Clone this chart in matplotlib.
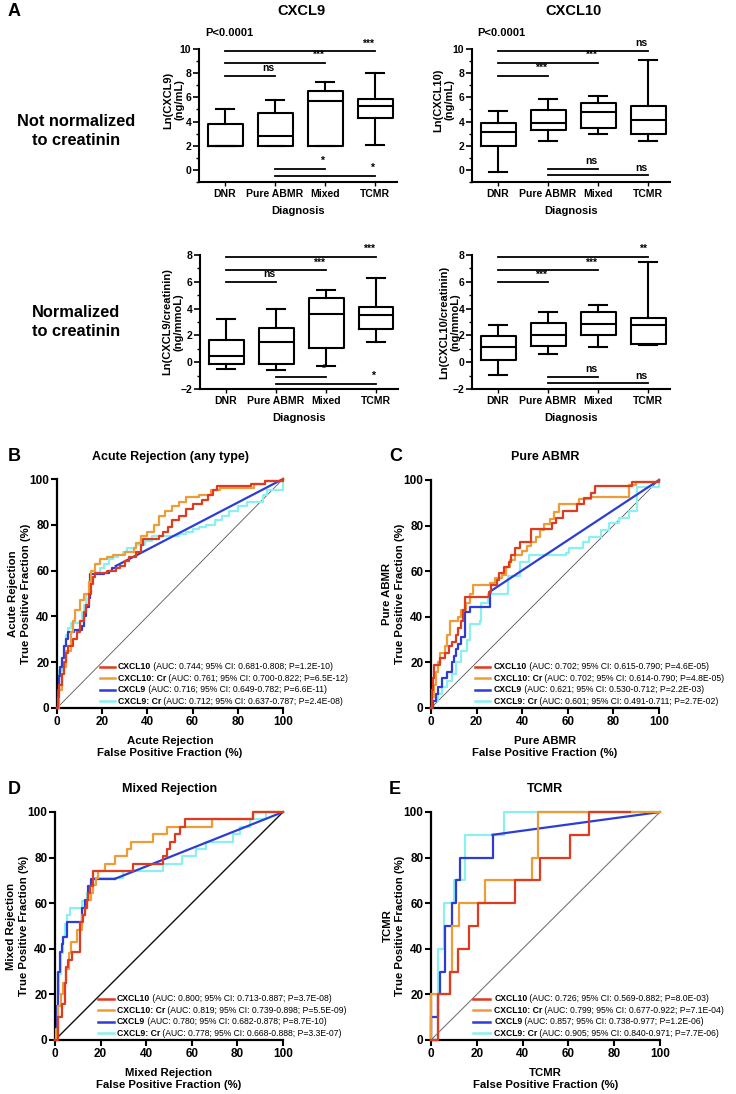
import matplotlib
matplotlib.use('Agg')
import matplotlib.pyplot as plt

plt.rcParams['font.family'] = ['Liberation Sans', 'DejaVu Sans']

# ---------------- data ----------------
groups = ['DNR', 'Pure ABMR', 'Mixed', 'TCMR']

# Panel A box statistics: whisker low, Q1, median, Q3, whisker high
cxcl9_low = [2.0, 2.0, 2.0, 2.1]
cxcl9_q1 = [2.0, 2.0, 2.0, 4.3]
cxcl9_med = [2.0, 2.8, 5.7, 5.3]
cxcl9_q3 = [3.8, 4.7, 6.5, 5.9]
cxcl9_high = [5.0, 5.75, 7.25, 8.0]

cxcl10_low = [-0.2, 2.4, 3.0, 2.4]
cxcl10_q1 = [2.0, 3.3, 3.5, 3.0]
cxcl10_med = [3.1, 3.85, 4.8, 4.1]
cxcl10_q3 = [3.9, 4.95, 5.55, 5.3]
cxcl10_high = [4.9, 5.9, 6.15, 9.1]

cxcl9cr_low = [-0.5, -0.55, -0.27, 1.5]
cxcl9cr_q1 = [-0.15, -0.1, 1.07, 2.5]
cxcl9cr_med = [0.47, 1.52, 3.63, 3.5]
cxcl9cr_q3 = [1.65, 2.55, 4.8, 4.1]
cxcl9cr_high = [3.2, 4.0, 5.37, 6.3]

cxcl10cr_low = [-0.95, 0.6, 1.1, 1.25]
cxcl10cr_q1 = [0.15, 1.2, 2.0, 1.35]
cxcl10cr_med = [1.1, 2.05, 2.85, 2.8]
cxcl10cr_q3 = [1.95, 2.9, 3.75, 3.3]
cxcl10cr_high = [2.8, 3.75, 4.25, 7.45]

# significance comparisons: (from group, to group, bar level, label)
sig_cxcl9 = [(0, 1, 7.77, 'ns'), (0, 2, 8.87, '***'), (0, 3, 9.83, '***'),
             (1, 2, 0.08, '*'), (1, 3, -0.47, '*')]
sig_cxcl10 = [(0, 1, 7.77, '***'), (0, 2, 8.87, '***'), (0, 3, 9.83, 'ns'),
              (1, 2, 0.08, 'ns'), (1, 3, -0.45, 'ns')]
sig_cxcl9cr = [(0, 1, 5.99, 'ns'), (0, 2, 6.87, '***'), (0, 3, 7.86, '***'),
               (1, 2, -1.1, '*'), (1, 3, -1.59, '*')]
sig_cxcl10cr = [(0, 1, 5.96, '***'), (0, 2, 6.87, '***'), (0, 3, 7.85, '**'),
                (1, 2, -1.1, 'ns'), (1, 3, -1.57, 'ns')]

# ROC curves (FPR %, TPR %); step points: at FPR x the TPR rises to y
series_names = ['CXCL10', 'CXCL10: Cr', 'CXCL9', 'CXCL9: Cr']
series_colors = ['#DE3B20', '#EE9C38', '#2C3DD6', '#8AF0F0']

B_cxcl10_fpr = [0, 0.5, 1, 2, 3, 4, 5, 7, 9, 10, 12, 13, 14, 15, 16, 17, 22, 26, 28, 30, 32, 35, 37, 38, 45, 47, 49, 51, 54, 57, 60, 64, 67, 69, 71, 86, 92, 100]
B_cxcl10_tpr = [0, 5, 10, 15, 20, 24, 27, 30, 33, 38, 42, 45, 50, 54, 57, 59, 60, 61, 62, 64, 66, 68, 71, 74, 75, 77, 79, 82, 84, 87, 89, 91, 93, 95, 97, 98, 99, 100]
B_cxcl10cr_fpr = [0, 1, 2, 3, 4, 6, 7, 8, 10, 12, 14, 15, 17, 19, 22, 25, 30, 34, 35, 37, 40, 43, 45, 48, 51, 54, 57, 63, 68, 72, 87, 92, 100]
B_cxcl10cr_tpr = [0, 8, 15, 18, 25, 33, 38, 43, 47, 50, 55, 60, 63, 65, 66, 67, 68, 70, 72, 75, 77, 80, 84, 86, 88, 90, 92, 93, 95, 96, 98, 99, 100]
B_cxcl9_fpr = [0, 0.5, 1, 1.5, 2.2, 3, 4, 5, 7.5, 11, 12, 13, 14, 14.7, 21, 23, 24.5, 26, 100]
B_cxcl9_tpr = [0, 8, 14, 18, 22, 27, 30, 33, 34, 36, 40, 44, 48, 58.5, 59, 60, 61, 62, 100]
B_cxcl9cr_fpr = [0, 0.5, 1, 2, 3, 4, 5, 6, 10, 11, 12, 13, 14, 15, 17, 19, 21, 23, 25, 27, 29, 31, 35, 39, 42, 54, 57, 60, 63, 66, 70, 73, 76, 80, 84, 91, 93, 100]
B_cxcl9cr_tpr = [0, 10, 16, 22, 27, 32, 35, 37, 38, 42, 45, 50, 55, 57, 59, 61, 63, 65, 66, 67, 68, 70, 71, 73, 75, 76, 77, 78, 79, 80, 82, 84, 86, 88, 90, 93, 95, 100]

C_cxcl10_fpr = [0, 0.5, 1, 1.5, 4, 6, 8, 9, 11, 12, 13, 14, 15, 25.5, 26.5, 29, 30, 32, 34, 35, 37, 39, 44, 53, 55, 58, 64, 67, 70, 72, 88, 100]
C_cxcl10_tpr = [0, 8, 13, 19, 22, 24, 27, 29, 32, 35, 38, 43, 48.6, 51, 54, 56, 59, 62, 64, 67, 70, 73, 78.5, 81, 83.5, 86.5, 89.5, 92, 94.5, 97.3, 99, 100]
C_cxcl10cr_fpr = [0, 0.5, 1.5, 2, 3, 4, 6, 7, 8.3, 12, 13, 15.5, 17, 18.5, 26, 28, 31, 33, 34.5, 37, 40, 42, 44, 46, 48, 49.5, 52, 54, 56, 65, 70, 87, 90, 100]
C_cxcl10cr_tpr = [0, 5, 10, 16, 20, 24, 27, 32, 38, 40, 43, 46, 50, 54, 55, 57, 58.5, 62, 65, 67, 69, 71, 73, 75, 78, 80.5, 83, 86, 89.5, 91.8, 92.5, 98, 99, 100]
C_cxcl9_fpr = [0, 1, 2, 3, 4.7, 7, 9, 10, 11, 12, 13, 14.8, 17, 25.8, 100]
C_cxcl9_tpr = [0, 3, 6, 9, 13, 16, 20, 23, 26, 28, 31, 42, 44.4, 51, 100]
C_cxcl9cr_fpr = [0, 1, 3, 5, 7, 9, 11, 13, 15.6, 17, 21.4, 22, 25, 33.8, 38.9, 43.2, 59.2, 60.7, 66.5, 69.4, 74.5, 78, 82.5, 87, 90.5, 100]
C_cxcl9cr_tpr = [0, 3, 6, 9, 12, 15, 20, 25, 30, 37, 38, 46, 50, 58, 64, 67, 68, 70, 73, 75, 78, 81, 83.5, 86.5, 97, 100]

D_cxcl10_fpr = [0, 1.5, 3, 4.4, 5, 5.8, 7.3, 11, 12.4, 13, 13.9, 14.6, 15.3, 16.8, 34.3, 47.4, 49, 50.4, 52.5, 54.7, 57, 87, 100]
D_cxcl10_tpr = [0, 10, 16, 25, 32, 35, 38.5, 51.6, 55, 58, 61.3, 64.5, 67.7, 74.2, 77.4, 80.6, 83.8, 87, 90.3, 93.5, 96.8, 100, 100]
D_cxcl10cr_fpr = [0, 0.5, 1.5, 2.5, 3.6, 5, 6, 7, 9.5, 11.7, 13, 13.9, 16, 16.5, 18, 19, 22, 26.3, 31.4, 33.5, 43, 49, 69, 87, 100]
D_cxcl10cr_tpr = [0, 5, 15, 20, 25, 31, 38, 43, 48.4, 55, 58, 61.3, 64.5, 68, 71, 74.2, 77.4, 80.6, 83.9, 87, 90.3, 93.5, 96.8, 100, 100]
D_cxcl9_fpr = [0, 0.7, 1.5, 2.2, 3, 3.6, 5.1, 11.7, 13, 14.6, 16, 26.3, 100]
D_cxcl9_tpr = [0, 15, 30, 38.8, 42, 45, 51.6, 58, 61.3, 67.7, 70.7, 70.7, 100]
D_cxcl9cr_fpr = [0, 0.7, 1.2, 1.9, 2.5, 3.6, 4.3, 5.1, 6.6, 11.7, 13.9, 15.3, 16.8, 30, 47.4, 55.5, 62, 66.4, 78, 81, 85.4, 92.7, 100]
D_cxcl9cr_tpr = [0, 10, 20, 29, 38, 45, 51, 54.8, 58, 61, 64.5, 67.7, 71, 74.2, 77.4, 80.6, 83.9, 87, 90.3, 93.5, 96.8, 100, 100]

E_cxcl10_fpr = [0, 3.2, 8.4, 11.7, 16.5, 20.5, 36.5, 47.6, 60.9, 69, 86.7]
E_cxcl10_tpr = [0, 20, 30, 40, 50, 60, 70, 80, 90, 100, 100]
E_cxcl10cr_fpr = [0, 0, 8.4, 9.2, 12.1, 23.6, 43.9, 46.8, 100]
E_cxcl10cr_tpr = [0, 20, 30, 50, 60, 70, 80, 100, 100]
E_cxcl9_fpr = [0, 0, 3.2, 4.0, 5.9, 9.2, 11.1, 12.8, 26.9, 100]
E_cxcl9_tpr = [0, 10, 20, 30, 50, 60, 70, 80, 90, 100]
E_cxcl9cr_fpr = [0, 3.2, 5.5, 9.9, 14.8, 32, 100]
E_cxcl9cr_tpr = [0, 40, 60, 70, 90, 100, 100]

B_auc = ['0.744', '0.761', '0.716', '0.712']
B_ci = ['0.681-0.808', '0.700-0.822', '0.649-0.782', '0.637-0.787']
B_p = ['1.2E-10', '6.5E-12', '6.6E-11', '2.4E-08']
C_auc = ['0.702', '0.702', '0.621', '0.601']
C_ci = ['0.615-0.790', '0.614-0.790', '0.530-0.712', '0.491-0.711']
C_p = ['4.6E-05', '4.8E-05', '2.2E-03', '2.7E-02']
D_auc = ['0.800', '0.819', '0.780', '0.778']
D_ci = ['0.713-0.887', '0.739-0.898', '0.682-0.878', '0.668-0.888']
D_p = ['3.7E-08', '5.5E-09', '8.7E-10', '3.3E-07']
E_auc = ['0.726', '0.799', '0.857', '0.905']
E_ci = ['0.569-0.882', '0.677-0.922', '0.738-0.977', '0.840-0.971']
E_p = ['8.0E-03', '7.1E-04', '1.2E-06', '7.7E-06']

# ---------------- figure ----------------
W, H = 736, 1094
fig = plt.figure(figsize=(W / 100, H / 100), dpi=100)


def ax_px(l, t, r, b):
    return fig.add_axes([l / W, 1 - b / H, (r - l) / W, (b - t) / H])


def ftext(x, y, s, **kw):
    kw.setdefault('fontweight', 'bold')
    return fig.text(x / W, 1 - y / H, s, **kw)


def box_panel(ax, low, q1, med, q3, high, ylim, sigs):
    stats = [dict(whislo=a, q1=b, med=c, q3=d, whishi=e, fliers=[])
             for a, b, c, d, e in zip(low, q1, med, q3, high)]
    lp = dict(color='black', linewidth=1.5)
    ax.bxp(stats, positions=range(len(groups)), widths=0.7, capwidths=0.36,
           showfliers=False, boxprops=lp, medianprops=lp, whiskerprops=lp,
           capprops=lp)
    ax.set_xlim(-0.52, 3.44)
    ax.set_ylim(*ylim)
    for s in ['top', 'right']:
        ax.spines[s].set_visible(False)
    for s in ['left', 'bottom']:
        ax.spines[s].set_linewidth(1.5)
    ax.set_xticks(range(len(groups)))
    ax.set_xticklabels(groups, fontweight='bold', fontsize=7.5)
    ax.set_yticks(range(ylim[0] + (ylim[0] % 2), ylim[1] + 1, 2))
    ax.set_yticks(range(ylim[0], ylim[1] + 1), minor=True)
    for lbl in ax.get_yticklabels():
        lbl.set_fontweight('bold')
        lbl.set_fontsize(7.5)
    ax.tick_params(axis='y', which='major', length=4, width=1.2, pad=1.5)
    ax.tick_params(axis='y', which='minor', length=2.5, width=1.0)
    ax.tick_params(axis='x', length=3, width=1.0, pad=2)
    for i, j, y, lab in sigs:
        ax.plot([i, j], [y, y], color='black', lw=1.3, clip_on=False)
        ax.text(j - 0.02, y + 0.02 * (ylim[1] - ylim[0]), lab, ha='right', va='bottom',
                fontsize=7.5, fontweight='bold')


a1 = ax_px(199, 49, 397, 182)
box_panel(a1, cxcl9_low, cxcl9_q1, cxcl9_med, cxcl9_q3, cxcl9_high, (-1, 10), sig_cxcl9)
a2 = ax_px(472, 49, 670, 182)
box_panel(a2, cxcl10_low, cxcl10_q1, cxcl10_med, cxcl10_q3, cxcl10_high, (-1, 10), sig_cxcl10)
a3 = ax_px(200, 255, 398, 389)
box_panel(a3, cxcl9cr_low, cxcl9cr_q1, cxcl9cr_med, cxcl9cr_q3, cxcl9cr_high, (-2, 8), sig_cxcl9cr)
a4 = ax_px(472, 255, 670, 389)
box_panel(a4, cxcl10cr_low, cxcl10cr_q1, cxcl10cr_med, cxcl10cr_q3, cxcl10cr_high, (-2, 8), sig_cxcl10cr)

for ax in (a1, a2, a3, a4):
    ax.set_xlabel('Diagnosis', fontweight='bold', fontsize=8, labelpad=5)

ftext(8, 12, 'A', fontsize=13, ha='left', va='center')
ftext(301, 11, 'CXCL9', fontsize=10.5, ha='center', va='center')
ftext(574, 11, 'CXCL10', fontsize=10.5, ha='center', va='center')
ftext(205, 33, 'P<0.0001', fontsize=8, ha='left', va='center')
ftext(477, 33, 'P<0.0001', fontsize=8, ha='left', va='center')
ftext(76, 131, 'Not normalized\nto creatinin', fontsize=11.8, ha='center', va='center',
      multialignment='center', linespacing=1.35)
ftext(76, 322, 'Normalized\nto creatinin', fontsize=11.8, ha='center', va='center',
      multialignment='center', linespacing=1.35)
ftext(174, 100, 'Ln(CXCL9)\n(ng/mL)', fontsize=8, rotation=90, ha='center', va='center',
      multialignment='center', linespacing=1.1)
ftext(444, 100, 'Ln(CXCL10)\n(ng/mL)', fontsize=8, rotation=90, ha='center', va='center',
      multialignment='center', linespacing=1.1)
ftext(173, 322, 'Ln(CXCL9/creatinin)\n(ng/mmoL)', fontsize=8, rotation=90, ha='center',
      va='center', multialignment='center', linespacing=1.1)
ftext(450, 322, 'Ln(CXCL10/creatinin)\n(ng/mmoL)', fontsize=8, rotation=90, ha='center',
      va='center', multialignment='center', linespacing=1.1)


# ---------------- ROC panels ----------------
def roc_panel(ax, curves, aucs, cis, ps, diag_color, diag_lw, name, leg_x):
    ax.plot([0, 100], [0, 100], color=diag_color, lw=diag_lw, zorder=1)
    zorders = [5, 4, 3, 2]
    for k, (fpr, tpr, stepped) in enumerate(curves):
        if stepped:
            ax.plot(fpr, tpr, drawstyle='steps-post', color=series_colors[k], lw=1.6,
                    zorder=zorders[k], clip_on=False)
        else:
            ax.plot(fpr[:-1], tpr[:-1], drawstyle='steps-post', color=series_colors[k],
                    lw=1.6, zorder=zorders[k], clip_on=False)
            ax.plot(fpr[-2:], tpr[-2:], color=series_colors[k], lw=1.6,
                    zorder=zorders[k], clip_on=False)
    ax.set_xlim(0, 100)
    ax.set_ylim(0, 100)
    ax.set_xticks(range(0, 101, 20))
    ax.set_yticks(range(0, 101, 20))
    for s in ['top', 'right']:
        ax.spines[s].set_visible(False)
    for s in ['left', 'bottom']:
        ax.spines[s].set_linewidth(1.6)
    ax.tick_params(direction='out', length=4, width=1.5, labelsize=8.5, pad=1.5)
    for lbl in ax.get_xticklabels() + ax.get_yticklabels():
        lbl.set_fontweight('bold')
    ax.set_xlabel(name + '\nFalse Positive Fraction (%)', fontweight='bold', fontsize=8.2,
                  labelpad=6, linespacing=1.3, multialignment='center')
    ax.set_ylabel(name + '\nTrue Positive Fraction (%)', fontweight='bold', fontsize=8.2,
                  labelpad=-1, linespacing=1.3, multialignment='center')
    rows = [0.18, 0.13, 0.079, 0.029]
    for k in range(4):
        y = rows[k]
        ax.plot([leg_x[0], leg_x[1]], [y, y], transform=ax.transAxes,
                color=series_colors[k], lw=1.8, clip_on=False)
        t = ax.text(leg_x[2], y, series_names[k], transform=ax.transAxes, fontsize=6.2,
                    fontweight='bold', ha='left', va='center')
        ax.annotate(' (AUC: %s; 95%% CI: %s; P=%s)' % (aucs[k], cis[k], ps[k]),
                    xy=(1, 0), xycoords=t, ha='left', va='bottom', fontsize=6.2)


bax = ax_px(57, 479, 283, 708)
roc_panel(bax, [(B_cxcl10_fpr, B_cxcl10_tpr, True), (B_cxcl10cr_fpr, B_cxcl10cr_tpr, True),
                (B_cxcl9_fpr, B_cxcl9_tpr, False), (B_cxcl9cr_fpr, B_cxcl9cr_tpr, True)],
          B_auc, B_ci, B_p, '#555555', 0.6, 'Acute Rejection', (0.19, 0.257, 0.27))
cax = ax_px(431, 480, 659, 708)
roc_panel(cax, [(C_cxcl10_fpr, C_cxcl10_tpr, True), (C_cxcl10cr_fpr, C_cxcl10cr_tpr, True),
                (C_cxcl9_fpr, C_cxcl9_tpr, False), (C_cxcl9cr_fpr, C_cxcl9cr_tpr, True)],
          C_auc, C_ci, C_p, '#555555', 0.6, 'Pure ABMR', (0.193, 0.259, 0.276))
dax = ax_px(55, 812, 283, 1040)
roc_panel(dax, [(D_cxcl10_fpr, D_cxcl10_tpr, True), (D_cxcl10cr_fpr, D_cxcl10cr_tpr, True),
                (D_cxcl9_fpr, D_cxcl9_tpr, False), (D_cxcl9cr_fpr, D_cxcl9cr_tpr, True)],
          D_auc, D_ci, D_p, '#111111', 1.0, 'Mixed Rejection', (0.19, 0.257, 0.27))
eax = ax_px(431, 812, 660, 1040)
roc_panel(eax, [(E_cxcl10_fpr, E_cxcl10_tpr, True), (E_cxcl10cr_fpr, E_cxcl10cr_tpr, True),
                (E_cxcl9_fpr, E_cxcl9_tpr, False), (E_cxcl9cr_fpr, E_cxcl9cr_tpr, True)],
          E_auc, E_ci, E_p, '#777777', 0.8, 'TCMR', (0.184, 0.259, 0.276))

ftext(8, 457, 'B', fontsize=13, ha='left', va='center')
ftext(389, 457, 'C', fontsize=13, ha='left', va='center')
ftext(8, 790, 'D', fontsize=13, ha='left', va='center')
ftext(389, 790, 'E', fontsize=13, ha='left', va='center')
ftext(170, 457, 'Acute Rejection (any type)', fontsize=9, ha='center', va='center')
ftext(545, 457, 'Pure ABMR', fontsize=9, ha='center', va='center')
ftext(170, 789, 'Mixed Rejection', fontsize=9, ha='center', va='center')
ftext(545, 789, 'TCMR', fontsize=9, ha='center', va='center')

fig.savefig('out.png', dpi=100)
